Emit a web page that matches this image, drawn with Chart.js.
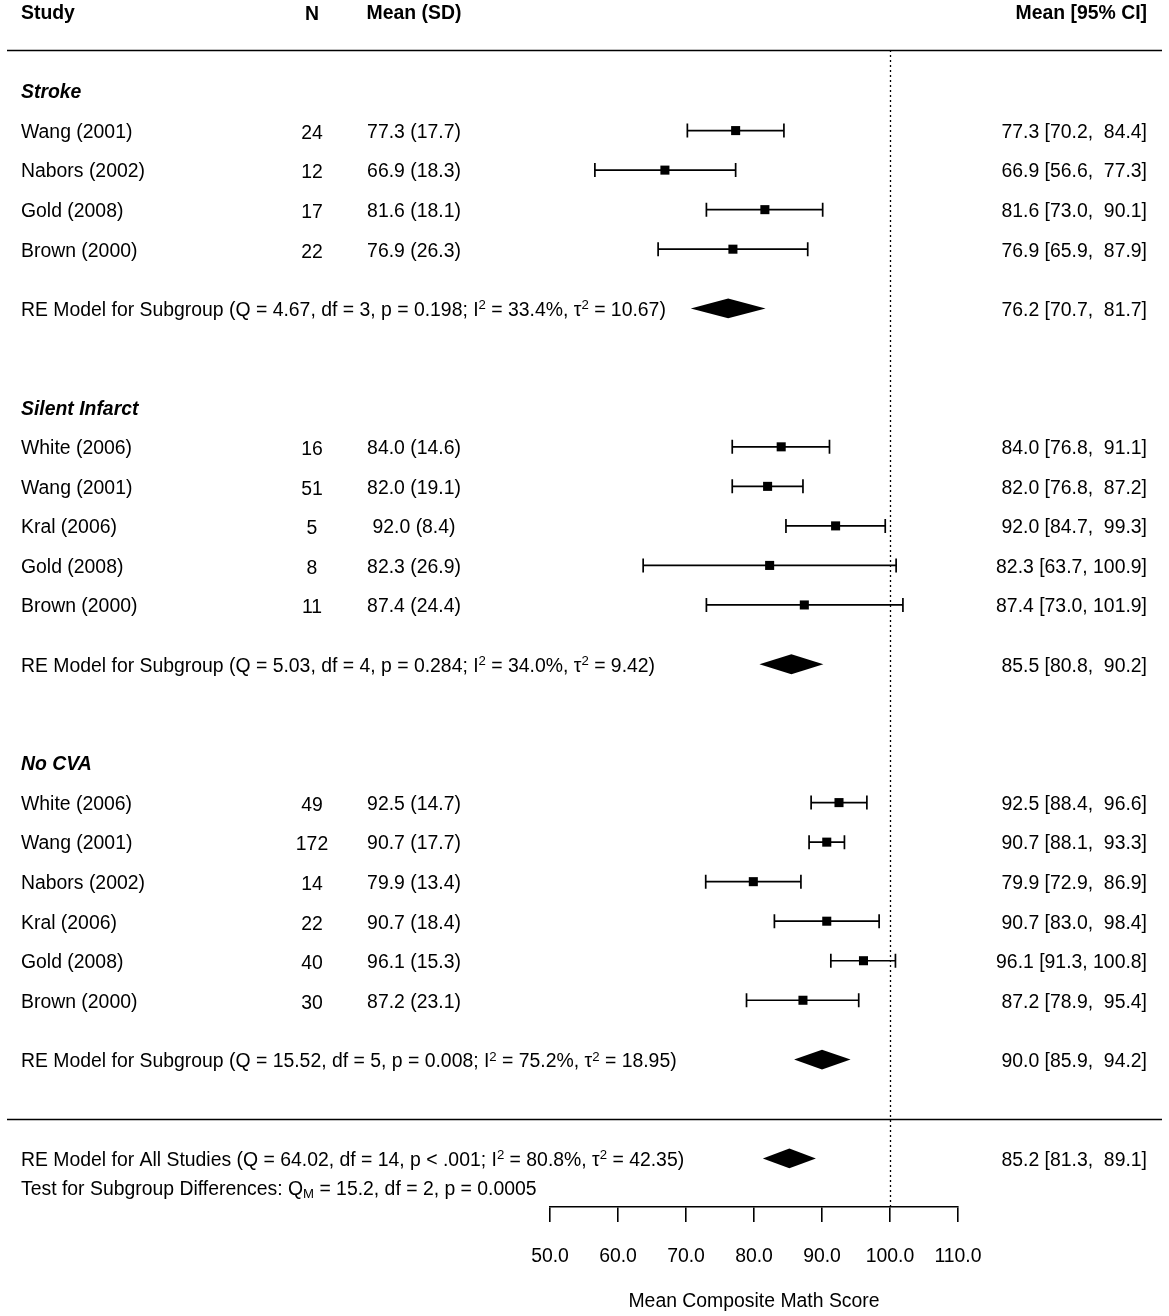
<!DOCTYPE html>
<html><head><meta charset="utf-8">
<script src="https://cdn.jsdelivr.net/npm/chart.js@4.4.1/dist/chart.umd.min.js"></script>
<style>html,body{margin:0;padding:0;background:#fff}#wrap{width:1169px;height:1316px;position:relative}</style>
</head><body><div id="wrap"><canvas id="c"></canvas></div>
<script>
// ---------- data ----------
const groupNames = ['Stroke', 'Silent Infarct', 'No CVA'];

const strokeStudy = ['Wang (2001)', 'Nabors (2002)', 'Gold (2008)', 'Brown (2000)'];
const strokeN     = [24, 12, 17, 22];
const strokeMean  = [77.3, 66.9, 81.6, 76.9];
const strokeSD    = [17.7, 18.3, 18.1, 26.3];
const strokeLo    = [70.2, 56.6, 73.0, 65.9];
const strokeHi    = [84.4, 77.3, 90.1, 87.9];

const silentStudy = ['White (2006)', 'Wang (2001)', 'Kral (2006)', 'Gold (2008)', 'Brown (2000)'];
const silentN     = [16, 51, 5, 8, 11];
const silentMean  = [84.0, 82.0, 92.0, 82.3, 87.4];
const silentSD    = [14.6, 19.1, 8.4, 26.9, 24.4];
const silentLo    = [76.8, 76.8, 84.7, 63.7, 73.0];
const silentHi    = [91.1, 87.2, 99.3, 100.9, 101.9];

const nocvaStudy  = ['White (2006)', 'Wang (2001)', 'Nabors (2002)', 'Kral (2006)', 'Gold (2008)', 'Brown (2000)'];
const nocvaN      = [49, 172, 14, 22, 40, 30];
const nocvaMean   = [92.5, 90.7, 79.9, 90.7, 96.1, 87.2];
const nocvaSD     = [14.7, 17.7, 13.4, 18.4, 15.3, 23.1];
const nocvaLo     = [88.4, 88.1, 72.9, 83.0, 91.3, 78.9];
const nocvaHi     = [96.6, 93.3, 86.9, 98.4, 100.8, 95.4];

const subEst  = [76.2, 85.5, 90.0];
const subLo   = [70.7, 80.8, 85.9];
const subHi   = [81.7, 90.2, 94.2];
const subQ    = ['4.67', '5.03', '15.52'];
const subDf   = [3, 4, 5];
const subP    = ['0.198', '0.284', '0.008'];
const subI2   = ['33.4', '34.0', '75.2'];
const subTau2 = ['10.67', '9.42', '18.95'];

const overallEst = 85.2, overallLo = 81.3, overallHi = 89.1;
const overallStats = {Q: '64.02', df: 14, p: '< .001', I2: '80.8', tau2: '42.35'};
const testQM = '15.2', testDf = 2, testP = '0.0005';

const xTicks = [50, 60, 70, 80, 90, 100, 110];
const refValue = 100;
const xTitle = 'Mean Composite Math Score';

// ---------- layout of rows ----------
const FONT = '"Liberation Sans", Arial, sans-serif';
const FS = 19.4;
const TY = 2; // text vertical nudge
const groups = [
  {name: groupNames[0], study: strokeStudy, n: strokeN, mean: strokeMean, sd: strokeSD, lo: strokeLo, hi: strokeHi},
  {name: groupNames[1], study: silentStudy, n: silentN, mean: silentMean, sd: silentSD, lo: silentLo, hi: silentHi},
  {name: groupNames[2], study: nocvaStudy, n: nocvaN, mean: nocvaMean, sd: nocvaSD, lo: nocvaLo, hi: nocvaHi}
];
let r = 2;
const studyRows = [], labelRows = [], reRows = [];
groups.forEach((g) => {
  labelRows.push(r);
  g.rows = g.study.map((_, i) => r + 1 + i);
  g.rows.forEach((row, i) => studyRows.push({x: g.mean[i], y: row, lo: g.lo[i], hi: g.hi[i]}));
  reRows.push(r + g.study.length + 1.5);
  r = r + g.study.length + 4;
});
const bottomLineRow = reRows[2] + 1.5;
const overallRow = bottomLineRow + 1;
const testRow = overallRow + 0.75;
const topLineRow = 0.96;

const f1 = v => v.toFixed(1);
const ciText = (m, lo, hi) => `${f1(m)} [${f1(lo)}, ${f1(hi).padStart(5, ' ')}]`;

function drawRich(ctx, parts, x, y, align) {
  const big = `${FS}px ${FONT}`, small = `${FS * 0.68}px ${FONT}`;
  let w = 0;
  parts.forEach(p => { ctx.font = p[1] ? small : big; w += ctx.measureText(p[0]).width; });
  let cx = align === 'right' ? x - w : (align === 'center' ? x - w / 2 : x);
  ctx.textAlign = 'left';
  parts.forEach(p => {
    ctx.font = p[1] ? small : big;
    const dy = p[1] === 1 ? -FS * 0.24 : (p[1] === -1 ? FS * 0.22 : 0);
    ctx.fillText(p[0], cx, y + dy);
    cx += ctx.measureText(p[0]).width;
  });
}

const forestPlugin = {
  id: 'forest',
  beforeDatasetsDraw(chart) {
    const ctx = chart.ctx, xs = chart.scales.x, ys = chart.scales.y;
    ctx.save();
    ctx.strokeStyle = '#000';
    ctx.lineWidth = 1.3;
    ctx.setLineDash([2, 3]);
    ctx.beginPath();
    const rx = Math.round(xs.getPixelForValue(refValue)) + 0.5;
    ctx.moveTo(rx, ys.getPixelForValue(topLineRow));
    ctx.lineTo(rx, chart.chartArea.bottom);
    ctx.stroke();
    ctx.setLineDash([]);
    ctx.lineWidth = 1.7;
    studyRows.forEach(s => {
      const y = ys.getPixelForValue(s.y);
      const a = xs.getPixelForValue(s.lo), b = xs.getPixelForValue(s.hi);
      ctx.beginPath();
      ctx.moveTo(a, y); ctx.lineTo(b, y);
      ctx.moveTo(a, y - 7); ctx.lineTo(a, y + 7);
      ctx.moveTo(b, y - 7); ctx.lineTo(b, y + 7);
      ctx.stroke();
    });
    const diamond = (est, lo, hi, row) => {
      const y = ys.getPixelForValue(row);
      const h = ys.getPixelForValue(row + 0.25) - y;
      ctx.beginPath();
      ctx.moveTo(xs.getPixelForValue(lo), y);
      ctx.lineTo(xs.getPixelForValue(est), y - h);
      ctx.lineTo(xs.getPixelForValue(hi), y);
      ctx.lineTo(xs.getPixelForValue(est), y + h);
      ctx.closePath();
      ctx.fillStyle = '#000';
      ctx.fill();
    };
    subEst.forEach((e, i) => diamond(e, subLo[i], subHi[i], reRows[i]));
    diamond(overallEst, overallLo, overallHi, overallRow);
    ctx.restore();
  },
  afterDraw(chart) {
    const ctx = chart.ctx, ys = chart.scales.y;
    const Y = row => ys.getPixelForValue(row) + TY;
    ctx.save();
    ctx.fillStyle = '#000';
    ctx.strokeStyle = '#000';
    ctx.textBaseline = 'middle';
    ctx.lineWidth = 1.6;
    [topLineRow, bottomLineRow].forEach(row => {
      const y = Math.round(ys.getPixelForValue(row)) + 0.5;
      ctx.beginPath(); ctx.moveTo(7, y); ctx.lineTo(1162, y); ctx.stroke();
    });
    ctx.font = `bold ${FS}px ${FONT}`;
    ctx.textAlign = 'left'; ctx.fillText('Study', 21, Y(0));
    ctx.textAlign = 'center'; ctx.fillText('N', 312, Y(0) + 1);
    ctx.fillText('Mean (SD)', 414, Y(0));
    ctx.textAlign = 'right'; ctx.fillText('Mean [95% CI]', 1147, Y(0));
    groups.forEach((g, gi) => {
      ctx.font = `italic bold ${FS}px ${FONT}`;
      ctx.textAlign = 'left';
      ctx.fillText(g.name, 21, Y(labelRows[gi]));
      ctx.font = `${FS}px ${FONT}`;
      g.rows.forEach((row, i) => {
        const y = Y(row);
        ctx.textAlign = 'left'; ctx.fillText(g.study[i], 21, y);
        ctx.textAlign = 'center'; ctx.fillText(String(g.n[i]), 312, y + 1);
        ctx.fillText(`${f1(g.mean[i])} (${f1(g.sd[i])})`, 414, y);
        ctx.textAlign = 'right'; ctx.fillText(ciText(g.mean[i], g.lo[i], g.hi[i]), 1147, y);
      });
      const y = Y(reRows[gi]);
      drawRich(ctx, [[`RE Model for Subgroup (Q = ${subQ[gi]}, df = ${subDf[gi]}, p = ${subP[gi]}; I`, 0], ['2', 1], [` = ${subI2[gi]}%, \u03C4`, 0], ['2', 1], [` = ${subTau2[gi]})`, 0]], 21, y, 'left');
      ctx.font = `${FS}px ${FONT}`;
      ctx.textAlign = 'right'; ctx.fillText(ciText(subEst[gi], subLo[gi], subHi[gi]), 1147, y);
    });
    const yo = Y(overallRow);
    drawRich(ctx, [[`RE Model for All Studies (Q = ${overallStats.Q}, df = ${overallStats.df}, p ${overallStats.p}; I`, 0], ['2', 1], [` = ${overallStats.I2}%, \u03C4`, 0], ['2', 1], [` = ${overallStats.tau2})`, 0]], 21, yo, 'left');
    ctx.font = `${FS}px ${FONT}`;
    ctx.textAlign = 'right'; ctx.fillText(ciText(overallEst, overallLo, overallHi), 1147, yo);
    drawRich(ctx, [['Test for Subgroup Differences: Q', 0], ['M', -1], [` = ${testQM}, df = ${testDf}, p = ${testP}`, 0]], 21, Y(testRow), 'left');
    ctx.restore();
  }
};

Chart.defaults.font.family = FONT;
Chart.defaults.color = '#000';

new Chart(document.getElementById('c'), {
  type: 'scatter',
  data: {
    datasets: [{
      data: studyRows.map(s => ({x: s.x, y: s.y})),
      pointStyle: 'rect',
      pointRadius: 6.4,
      pointHoverRadius: 6.4,
      backgroundColor: '#000',
      borderWidth: 0
    }]
  },
  options: {
    responsive: true,
    maintainAspectRatio: false,
    animation: false,
    events: [],
    layout: {padding: {left: 550, right: 211, top: 12, bottom: 0}},
    plugins: {legend: {display: false}, tooltip: {enabled: false}},
    scales: {
      x: {
        type: 'linear', min: 50, max: 110,
        afterBuildTicks: s => { s.ticks = xTicks.map(v => ({value: v})); },
        afterFit: s => { s.height = 109; },
        ticks: {callback: v => Number(v).toFixed(1), color: '#000', font: {size: FS, family: FONT}, padding: 23, maxRotation: 0, autoSkip: false},
        grid: {drawOnChartArea: false, drawTicks: true, tickLength: 15, color: '#000', lineWidth: 1.6},
        border: {display: true, color: '#000', width: 1.6},
        title: {display: true, text: xTitle, color: '#000', font: {size: FS, family: FONT}, padding: {top: 0, bottom: 2.4}}
      },
      y: {type: 'linear', display: false, reverse: true, min: 0, max: 30.23}
    }
  },
  plugins: [forestPlugin]
});
</script></body></html>
